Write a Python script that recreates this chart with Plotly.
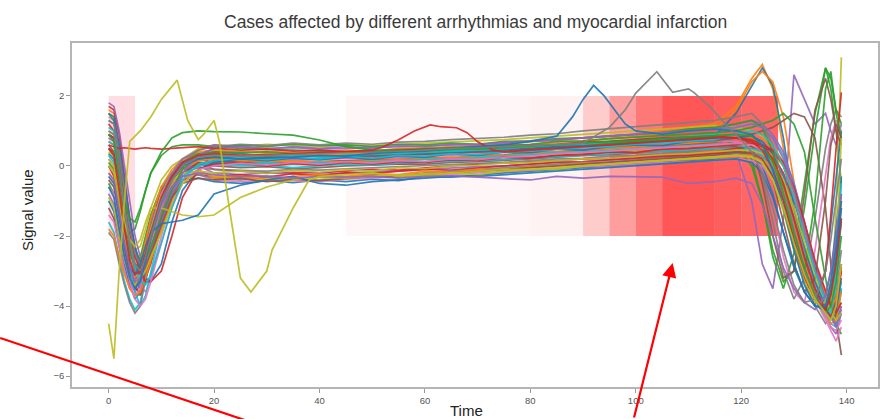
import plotly.graph_objects as go

# Sample times shared by most heartbeat traces
T = [0, 1, 2, 3, 4, 5, 6, 7, 8, 10, 12, 14, 17,
     20, 25, 30, 35, 40, 45, 50, 55, 60, 65, 70, 75, 80, 85, 90, 95, 100, 105, 110, 115,
     119, 122, 124, 126, 128, 130, 132, 134, 136, 137, 138, 139]

# Heartbeat traces on the shared time grid
s01 = [0.35, 0.2, -0.9, -2.1, -2.9, -3.3, -3.0, -2.4, -1.7, -0.8, -0.3, 0.05, 0.2,
       0.22, 0.18, 0.2, 0.15, 0.22, 0.25, 0.2, 0.3, 0.32, 0.35, 0.42, 0.4, 0.48, 0.52, 0.55, 0.6, 0.68, 0.7, 0.78, 0.8,
       0.8, 0.7, 0.5, 0.0, -0.9, -2.0, -3.0, -3.8, -4.1, -3.6, -2.8, -1.6]
s02 = [1.6, 1.5, 0.6, -0.8, -2.0, -2.8, -3.1, -2.7, -2.0, -1.0, -0.3, 0.15, 0.4,
       0.45, 0.4, 0.42, 0.38, 0.4, 0.45, 0.42, 0.5, 0.52, 0.55, 0.6, 0.62, 0.7, 0.72, 0.8, 0.85, 0.9, 1.0, 1.1, 1.2,
       1.7, 2.5, 2.9, 2.2, 0.5, -1.6, -3.0, -3.9, -4.0, -3.4, -2.4, -1.0]
s03 = [-0.5, -0.8, -1.6, -2.4, -2.9, -3.0, -2.6, -2.0, -1.4, -0.6, -0.2, 0.1, 0.25,
       0.3, 0.28, 0.25, 0.3, 0.28, 0.32, 0.3, 0.35, 0.38, 0.4, 0.45, 0.5, 0.55, 0.58, 0.62, 0.65, 0.7, 0.75, 0.8, 0.85,
       0.6, 0.0, -1.0, -2.6, -3.5, -2.5, -0.5, 1.5, 2.8, 2.2, 1.0, -0.5]
s04 = [1.2, 1.0, 0.2, -1.0, -2.2, -3.0, -3.4, -3.2, -2.8, -1.6, -0.7, -0.1, 0.2,
       0.1, 0.05, 0.0, 0.05, 0.02, 0.08, 0.1, 0.05, 0.12, 0.15, 0.2, 0.18, 0.25, 0.3, 0.35, 0.38, 0.45, 0.5, 0.52, 0.55,
       0.6, 0.6, 0.5, 0.3, -0.2, -1.0, -2.0, -3.0, -3.8, -4.2, -4.3, -3.5]
s05 = [0.8, 0.7, -0.2, -1.5, -2.6, -3.2, -3.0, -2.3, -1.6, -0.7, -0.2, 0.1, 0.3,
       0.35, 0.3, 0.32, 0.25, 0.3, 0.28, 0.3, 0.35, 0.32, 0.4, 0.42, 0.48, 0.5, 0.55, 0.6, 0.62, 0.7, 0.72, 0.75, 0.78,
       0.4, -1.0, -2.8, -3.5, -1.5, 2.6, 1.9, 1.2, 1.5, 1.0, 0.6, 1.2]
s06 = [-1.2, -1.5, -2.3, -3.0, -3.4, -3.3, -2.8, -2.1, -1.5, -0.7, -0.3, -0.05, 0.05,
       0.0, -0.05, -0.02, -0.08, -0.05, 0.0, 0.02, 0.05, 0.05, 0.1, 0.12, 0.15, 0.2, 0.25, 0.3, 0.32, 0.38, 0.42, 0.45, 0.5,
       0.55, 0.55, 0.45, 0.1, -0.6, -1.6, -2.7, -3.6, -4.2, -4.3, -3.8, -2.9]
s07 = [1.4, 1.3, 0.4, -0.9, -2.1, -2.9, -3.4, -3.6, -3.2, -2.0, -1.0, -0.3, 0.15,
       0.25, 0.2, 0.15, 0.2, 0.18, 0.22, 0.2, 0.25, 0.3, 0.28, 0.35, 0.4, 0.42, 0.48, 0.5, 0.58, 0.62, 0.65, 0.72, 0.75,
       0.8, 0.8, 0.75, 0.5, 0.0, -0.8, -1.8, -2.8, -3.7, -4.2, -4.6, -4.0]
s08 = [0.0, -0.2, -1.2, -2.3, -3.1, -3.5, -3.2, -2.5, -1.8, -0.9, -0.4, -0.1, 0.1,
       0.1, 0.12, 0.08, 0.1, 0.05, 0.1, 0.12, 0.15, 0.2, 0.18, 0.22, 0.28, 0.3, 0.35, 0.4, 0.42, 0.48, 0.52, 0.58, 0.6,
       0.6, 0.4, -0.3, -1.6, -3.0, -3.8, -3.2, -1.5, 0.5, 1.2, 1.6, 1.4]
s09 = [1.0, 0.9, 0.1, -1.1, -2.0, -2.6, -2.8, -2.4, -1.8, -0.8, -0.2, 0.2, 0.5,
       0.6, 0.55, 0.62, 0.58, 0.55, 0.6, 0.58, 0.62, 0.65, 0.7, 0.72, 0.75, 0.8, 0.85, 0.9, 0.95, 1.0, 1.05, 1.1, 1.15,
       1.1, 1.0, 0.85, 0.6, 0.1, -0.7, -1.7, -2.8, -3.8, -4.1, -1.2, 3.1]
s10 = [-1.6, -1.9, -2.6, -3.3, -3.8, -4.1, -3.9, -3.2, -2.4, -1.2, -0.5, -0.1, 0.1,
       0.05, 0.0, 0.02, -0.05, 0.0, 0.05, 0.02, 0.08, 0.1, 0.12, 0.15, 0.18, 0.22, 0.25, 0.3, 0.35, 0.38, 0.42, 0.45, 0.5,
       0.5, 0.5, 0.4, 0.1, -0.5, -1.4, -2.5, -3.4, -4.1, -4.4, -4.2, -3.3]
s11 = [0.9, 0.8, -0.3, -1.6, -2.7, -3.3, -3.5, -2.9, -2.1, -1.0, -0.4, 0.0, 0.3,
       0.4, 0.35, 0.3, 0.32, 0.3, 0.28, 0.25, 0.3, 0.35, 0.38, 0.4, 0.45, 0.5, 0.55, 0.58, 0.65, 0.7, 0.75, 0.8, 0.85,
       1.5, 2.3, 2.8, 2.3, 0.8, -1.2, -2.9, -3.8, -3.7, -3.0, -1.8, -0.3]
s12 = [-0.2, -0.4, -1.3, -2.3, -3.0, -3.2, -2.8, -2.1, -1.5, -0.6, -0.1, 0.2, 0.35,
       0.35, 0.3, 0.35, 0.3, 0.32, 0.35, 0.38, 0.4, 0.42, 0.48, 0.5, 0.55, 0.6, 0.68, 0.7, 0.78, 0.85, 0.9, 1.0, 1.05,
       1.6, 2.4, 2.7, 2.4, 1.4, -0.4, -2.3, -3.5, -4.1, -3.8, -2.8, -1.2]
s13 = [0.5, 0.3, -0.6, -1.5, -1.9, -1.8, -1.3, -0.7, -0.2, 0.3, 0.55, 0.6, 0.6,
       0.55, 0.5, 0.48, 0.45, 0.42, 0.4, 0.38, 0.4, 0.42, 0.45, 0.5, 0.52, 0.55, 0.6, 0.62, 0.65, 0.7, 0.72, 0.75, 0.78,
       0.7, 0.2, -1.0, -2.4, -3.3, -3.0, -1.2, 1.0, 2.8, 2.5, 1.6, 1.2]
s14 = [1.7, 1.6, 0.9, -0.3, -1.5, -2.3, -2.8, -3.0, -2.7, -1.8, -0.9, -0.2, 0.1,
       -0.1, -0.15, -0.2, -0.18, -0.2, -0.15, -0.1, -0.12, -0.05, 0.0, 0.05, 0.08, 0.1, 0.15, 0.2, 0.22, 0.28, 0.3, 0.35, 0.4,
       0.5, 0.55, 0.55, 0.4, 0.0, -0.8, -1.8, -2.8, -3.6, -4.0, -4.1, -2.8]
s15 = [-0.8, -1.1, -1.9, -2.7, -3.3, -3.6, -3.4, -2.8, -2.1, -1.0, -0.4, -0.1, 0.0,
       -0.2, -0.25, -0.2, -0.22, -0.25, -0.2, -0.18, -0.15, -0.1, -0.05, -0.02, 0.0, 0.05, 0.1, 0.12, 0.18, 0.2, 0.25, 0.3, 0.32,
       0.3, 0.3, 0.2, -0.1, -0.7, -1.6, -2.6, -3.5, -4.2, -4.6, -4.8, -4.2]
s16 = [0.6, 0.4, -0.5, -1.7, -2.7, -3.4, -3.7, -3.3, -2.6, -1.4, -0.6, -0.2, 0.05,
       0.15, 0.1, 0.15, 0.1, 0.12, 0.15, 0.18, 0.2, 0.25, 0.22, 0.3, 0.32, 0.38, 0.4, 0.45, 0.5, 0.55, 0.6, 0.62, 0.68,
       0.8, 0.9, 1.0, 1.1, 1.3, 1.5, 1.4, 0.8, -1.2, -2.8, -4.4, -5.4]
s17 = [0.2, 0.0, -0.9, -2.0, -2.8, -3.3, -3.1, -2.6, -1.9, -0.8, -0.3, 0.0, 0.2,
       0.2, 0.18, 0.2, 0.15, 0.18, 0.2, 0.25, 0.22, 0.28, 0.3, 0.35, 0.38, 0.42, 0.48, 0.5, 0.55, 0.6, 0.65, 0.7, 0.72,
       0.7, 0.5, 0.0, -1.2, -2.6, -3.6, -3.9, -2.4, -0.2, 0.8, 1.3, 1.0]
s18 = [-1.9, -2.1, -2.8, -3.4, -3.9, -4.2, -4.0, -3.3, -2.5, -1.3, -0.6, -0.2, -0.05,
       -0.1, -0.12, -0.15, -0.1, -0.12, -0.08, -0.05, -0.02, 0.0, 0.05, 0.08, 0.1, 0.15, 0.2, 0.22, 0.28, 0.3, 0.35, 0.4, 0.42,
       0.4, 0.35, 0.2, -0.3, -1.2, -2.3, -3.3, -4.0, -4.5, -4.3, -3.6, -2.4]
s19 = [0.4, 0.3, -0.5, -1.3, -2.0, -2.4, -2.3, -1.8, -1.2, -0.4, 0.0, 0.2, 0.25,
       0.2, 0.15, 0.18, 0.1, 0.12, 0.08, 0.1, 0.15, 0.12, 0.2, 0.22, 0.25, 0.3, 0.35, 0.38, 0.42, 0.45, 0.5, 0.52, 0.55,
       0.6, 0.6, 0.5, 0.3, 0.0, -0.8, -1.8, -2.8, -3.6, -4.0, -4.2, -3.9]
s20 = [1.1, 1.0, 0.2, -1.0, -2.1, -2.8, -3.0, -2.6, -1.9, -0.9, -0.3, 0.1, 0.3,
       0.3, 0.25, 0.28, 0.3, 0.25, 0.3, 0.32, 0.35, 0.4, 0.42, 0.45, 0.5, 0.55, 0.6, 0.62, 0.68, 0.75, 0.78, 0.85, 0.9,
       1.1, 1.2, 1.1, 0.8, 0.3, -0.5, -1.6, -2.8, -3.8, -4.1, -3.4, -1.5]
s21 = [-1.0, -1.3, -2.0, -2.8, -3.4, -3.8, -3.6, -3.0, -2.2, -1.1, -0.6, -0.4, -0.35,
       -0.45, -0.5, -0.42, -0.48, -0.4, -0.45, -0.38, -0.42, -0.3, -0.32, -0.25, -0.2, -0.15, -0.1, -0.05, 0.0, 0.05, 0.1, 0.15, 0.2,
       0.35, 0.3, 0.0, -0.8, -1.9, -2.9, -3.6, -4.0, -3.0, -1.6, -0.2, 1.0]
s22 = [0.7, 0.6, -0.3, -1.4, -2.4, -3.0, -3.3, -2.9, -2.3, -1.2, -0.5, -0.1, 0.15,
       0.2, 0.15, 0.12, 0.15, 0.1, 0.12, 0.15, 0.18, 0.2, 0.25, 0.28, 0.3, 0.35, 0.4, 0.45, 0.48, 0.55, 0.6, 0.65, 0.7,
       0.8, 0.8, 0.75, 0.55, 0.1, -0.8, -1.9, -2.9, -3.7, -4.0, -3.8, -3.0]
s23 = [1.5, 1.3, 0.3, -0.8, -1.8, -2.4, -2.7, -2.5, -2.0, -1.0, -0.3, 0.1, 0.35,
       0.4, 0.38, 0.4, 0.35, 0.38, 0.4, 0.42, 0.45, 0.5, 0.52, 0.55, 0.6, 0.62, 0.7, 0.72, 0.78, 0.82, 0.85, 0.9, 0.95,
       1.0, 1.1, 1.2, 1.3, 1.5, 1.2, 0.4, -1.5, -3.2, -4.0, -4.5, -4.8]
s24 = [0.0, -0.3, -1.2, -2.2, -3.0, -3.5, -3.6, -3.2, -2.6, -1.5, -0.8, -0.4, -0.25,
       -0.3, -0.25, -0.32, -0.22, -0.28, -0.2, -0.22, -0.15, -0.1, -0.12, -0.05, 0.0, 0.05, 0.1, 0.12, 0.18, 0.22, 0.28, 0.3, 0.35,
       0.4, 0.35, 0.2, -0.3, -1.2, -2.3, -3.2, -3.8, -3.0, -1.4, 0.5, 2.1]
s25 = [1.3, 1.2, 0.5, -0.6, -1.7, -2.5, -2.9, -2.6, -2.0, -0.9, -0.2, 0.2, 0.45,
       0.6, 0.55, 0.5, 0.52, 0.48, 0.5, 0.52, 0.55, 0.58, 0.6, 0.62, 0.65, 0.7, 0.75, 0.8, 0.85, 0.9, 0.95, 1.0, 1.05,
       1.2, 1.3, 1.2, 0.9, 0.4, -0.5, -1.6, -2.8, -3.8, -4.2, -4.5, -4.0]
s26 = [-0.4, -0.6, -1.5, -2.4, -3.1, -3.4, -3.2, -2.6, -2.0, -0.9, -0.3, 0.0, 0.2,
       0.25, 0.2, 0.25, 0.22, 0.2, 0.25, 0.28, 0.3, 0.32, 0.35, 0.4, 0.42, 0.48, 0.5, 0.55, 0.6, 0.65, 0.7, 0.75, 0.8,
       0.9, 0.6, -0.5, -2.0, -3.2, -3.0, -0.8, 1.6, 2.5, 1.9, 1.0, 0.6]
s27 = [-1.4, -1.6, -2.3, -3.0, -3.5, -3.7, -3.5, -2.9, -2.3, -1.2, -0.6, -0.3, -0.25,
       -0.4, -0.45, -0.4, -0.42, -0.45, -0.38, -0.35, -0.32, -0.28, -0.25, -0.2, -0.15, -0.12, -0.08, -0.02, 0.0, 0.05, 0.1, 0.12, 0.15,
       0.2, 0.15, 0.0, -0.4, -1.2, -2.2, -3.1, -3.8, -4.4, -4.7, -5.0, -4.6]
s28 = [0.9, 0.8, 0.0, -1.2, -2.3, -3.0, -3.3, -3.0, -2.4, -1.3, -0.6, -0.3, -0.25,
       -0.35, -0.4, -0.32, -0.38, -0.3, -0.35, -0.25, -0.28, -0.2, -0.15, -0.12, -0.05, 0.0, 0.05, 0.1, 0.12, 0.18, 0.22, 0.25, 0.3,
       0.35, 0.35, 0.3, 0.0, -0.5, -1.4, -2.4, -3.3, -4.0, -4.3, -4.5, -4.2]
s29 = [-0.9, -1.2, -2.0, -2.7, -3.2, -3.4, -3.1, -2.5, -1.9, -0.9, -0.4, -0.2, -0.15,
       -0.3, -0.35, -0.38, -0.35, -0.38, -0.32, -0.3, -0.28, -0.22, -0.2, -0.15, -0.12, -0.05, 0.0, 0.05, 0.08, 0.12, 0.15, 0.2, 0.22,
       0.3, 0.3, 0.2, 0.0, -0.5, -1.3, -2.3, -3.2, -3.9, -4.1, -2.6, 0.8]
s30 = [0.3, 0.1, -0.8, -1.9, -2.9, -3.6, -4.0, -3.7, -3.0, -1.7, -0.8, -0.3, 0.0,
       0.1, 0.05, 0.08, 0.05, 0.1, 0.08, 0.12, 0.15, 0.18, 0.2, 0.25, 0.28, 0.32, 0.38, 0.4, 0.45, 0.5, 0.55, 0.58, 0.62,
       0.6, 0.5, 0.3, -0.2, -1.0, -2.0, -3.0, -3.8, -4.3, -4.5, -4.6, -3.5]
s31 = [1.5, 1.4, 0.6, -0.5, -1.5, -2.3, -2.9, -3.2, -3.3, -2.8, -1.6, -0.7, -0.1,
       0.1, 0.2, 0.15, 0.22, 0.18, 0.25, 0.2, 0.28, 0.25, 0.35, 0.3, 0.4, 0.38, 0.48, 0.45, 0.55, 0.6, 0.58, 0.7, 0.72,
       0.8, 0.85, 0.7, 0.35, -0.3, -1.2, -2.3, -3.3, -4.0, -4.3, -4.1, -3.2]
s32 = [-1.8, -2.0, -2.6, -3.1, -3.5, -3.7, -3.6, -3.2, -2.7, -1.8, -1.0, -0.4, -0.1,
       -0.35, -0.3, -0.38, -0.3, -0.25, -0.3, -0.22, -0.25, -0.15, -0.18, -0.1, -0.12, -0.02, 0.0, 0.08, 0.05, 0.15, 0.2, 0.18, 0.25,
       0.3, 0.3, 0.2, -0.1, -0.7, -1.7, -2.8, -3.7, -4.3, -4.5, -4.4, -3.6]
s33 = [0.1, -0.1, -1.0, -1.9, -2.5, -2.8, -2.9, -2.7, -2.3, -1.5, -0.7, -0.1, 0.3,
       0.5, 0.6, 0.55, 0.62, 0.58, 0.6, 0.55, 0.62, 0.6, 0.65, 0.62, 0.7, 0.72, 0.78, 0.8, 0.85, 0.92, 0.95, 1.05, 1.1,
       1.2, 1.3, 1.1, 0.4, -0.8, -2.2, -3.0, -1.0, 2.2, 2.7, 1.5, 0.8]
s34 = [0.9, 0.8, 0.0, -1.0, -1.9, -2.6, -3.0, -3.3, -3.3, -3.0, -2.0, -0.9, -0.1,
       0.05, 0.1, 0.0, 0.08, 0.02, 0.1, 0.05, 0.12, 0.1, 0.18, 0.15, 0.25, 0.22, 0.3, 0.32, 0.4, 0.38, 0.48, 0.5, 0.55,
       0.6, 0.65, 0.6, 0.45, 0.1, -0.6, -1.6, -2.7, -3.6, -4.0, -4.2, -3.9]
s35 = [1.8, 1.7, 1.0, 0.0, -1.1, -2.0, -2.6, -2.8, -2.5, -1.6, -0.8, -0.2, 0.3,
       0.5, 0.55, 0.48, 0.55, 0.5, 0.55, 0.5, 0.58, 0.55, 0.62, 0.6, 0.68, 0.7, 0.75, 0.8, 0.85, 0.9, 0.95, 1.0, 1.05,
       1.1, 1.2, 1.1, 0.8, 0.2, -0.7, -1.8, -2.9, -3.9, -4.3, -4.6, -4.1]
s36 = [0.5, 0.4, -0.4, -1.4, -2.3, -2.9, -3.1, -2.9, -2.5, -1.7, -0.9, -0.5, -0.35,
       -0.4, -0.35, -0.45, -0.38, -0.42, -0.35, -0.3, -0.32, -0.25, -0.2, -0.15, -0.1, -0.05, 0.0, 0.05, 0.1, 0.15, 0.2, 0.25, 0.3,
       0.4, 0.35, 0.2, -0.4, -1.6, -2.8, -3.6, -3.2, -1.0, 0.6, 1.2, 0.8]
s37 = [-0.6, -0.8, -1.7, -2.6, -3.3, -3.8, -4.0, -3.8, -3.3, -2.2, -1.2, -0.5, -0.1,
       0.0, 0.08, 0.02, 0.1, 0.05, 0.12, 0.08, 0.15, 0.12, 0.2, 0.18, 0.25, 0.28, 0.35, 0.38, 0.42, 0.48, 0.52, 0.55, 0.6,
       0.65, 0.6, 0.45, 0.0, -0.8, -1.9, -2.9, -3.7, -4.3, -4.6, -4.7, -4.4]
s38 = [1.3, 1.2, 0.4, -0.7, -1.8, -2.5, -2.8, -2.6, -2.1, -1.1, -0.4, 0.1, 0.45,
       0.55, 0.62, 0.58, 0.65, 0.6, 0.65, 0.62, 0.68, 0.7, 0.75, 0.78, 0.82, 0.88, 0.92, 1.0, 1.05, 1.12, 1.18, 1.25, 1.3,
       1.4, 1.5, 1.2, 0.6, -0.5, -1.8, -3.0, -3.8, -4.1, -3.4, -2.2, -0.8]
s39 = [0.0, -0.2, -1.1, -2.0, -2.7, -3.1, -3.2, -3.0, -2.6, -1.9, -1.1, -0.5, -0.15,
       -0.2, -0.15, -0.22, -0.12, -0.18, -0.1, -0.15, -0.05, -0.08, 0.0, 0.02, 0.08, 0.1, 0.15, 0.2, 0.22, 0.28, 0.32, 0.35, 0.4,
       0.45, 0.45, 0.35, 0.1, -0.4, -1.2, -2.2, -3.1, -3.9, -4.2, -4.4, -4.2]
s40 = [0.7, 0.6, -0.2, -1.2, -2.2, -2.9, -3.3, -3.4, -3.1, -2.2, -1.2, -0.4, 0.05,
       0.15, 0.22, 0.18, 0.25, 0.2, 0.28, 0.22, 0.3, 0.28, 0.35, 0.32, 0.4, 0.42, 0.48, 0.52, 0.55, 0.62, 0.65, 0.7, 0.75,
       0.9, 1.0, 0.9, 0.6, 0.0, -0.9, -2.0, -3.0, -3.9, -4.3, -3.0, -0.5]

# Irregular beats on the shared grid
late_olive = [0.2, 0.0, -0.8, -1.6, -2.1, -2.3, -2.1, -1.6, -1.2, -1.2, -1.3, -1.4, -1.45,
              -1.4, -0.9, -0.6, -0.4, -0.3, -0.35, -0.3, -0.25, -0.3, -0.2, -0.25, -0.15, -0.1, -0.1, 0.0, 0.05, 0.1, 0.15, 0.2, 0.25,
              0.3, 0.25, 0.1, -0.4, -1.3, -2.4, -3.3, -3.9, -3.9, -3.3, -2.4, -1.0]
late_blue = [-0.3, -0.5, -1.4, -2.3, -2.9, -3.1, -2.8, -2.3, -1.9, -1.65, -1.6, -1.55, -1.4,
             -0.8, -0.55, -0.4, -0.3, -0.5, -0.55, -0.45, -0.4, -0.35, -0.3, -0.3, -0.25, -0.2, -0.15, -0.1, -0.05, 0.0, 0.05, 0.1, 0.15,
             0.2, 0.1, -0.2, -0.9, -1.9, -2.8, -3.6, -4.0, -4.1, -3.6, -2.6, -1.2]
flat_red = [0.6, 0.55, 0.5, 0.52, 0.5, 0.48, 0.5, 0.52, 0.5, 0.48, 0.5, 0.52, 0.55,
            0.5, 0.45, 0.48, 0.42, 0.45, 0.4, 0.42, 0.45, 0.48, 0.5, 0.52, 0.55, 0.6, 0.62, 0.68, 0.7, 0.75, 0.8, 0.82, 0.85,
            0.8, 0.75, 0.6, 0.2, -0.5, -1.5, -2.6, -3.5, -4.1, -4.3, -4.0, -3.0]
high_green = [0.9, 0.7, -0.2, -1.0, -1.5, -1.6, -1.2, -0.7, -0.2, 0.4, 0.8, 0.95, 1.0,
              0.98, 0.97, 0.92, 0.88, 0.74, 0.55, 0.45, 0.42, 0.45, 0.5, 0.48, 0.52, 0.55, 0.6, 0.65, 0.7, 0.72, 0.78, 0.82, 0.85,
              0.9, 0.85, 0.6, 0.1, -0.8, -1.9, -2.9, -3.7, -4.2, -4.0, -3.3, -2.0]
low_purple = [-0.2, -0.4, -1.3, -2.2, -2.9, -3.3, -3.2, -2.6, -2.0, -1.1, -0.6, -0.3, -0.2,
              -0.25, -0.3, -0.28, -0.35, -0.3, -0.32, -0.3, -0.35, -0.3, -0.28, -0.32, -0.35, -0.4, -0.3, -0.35, -0.3, -0.3, -0.32, -0.5, -0.45,
              -0.35, -0.5, -1.1, -2.0, -2.9, -3.5, -3.9, -4.1, -3.7, -3.0, -2.0, -0.8]

# Irregular beats with their own sample times
wild_t = [0, 1, 2, 3, 4, 6, 8, 10, 13, 15, 17, 18, 20, 21, 23, 25, 27, 30, 31, 33,
          35, 38, 40, 45, 50, 55, 60, 65, 70, 75, 80, 85, 90, 95, 100, 105, 110, 115, 119, 122,
          124, 126, 128, 130, 132, 134, 136, 137, 138, 139]
wild_v = [-4.5, -5.5, -3.0, -1.0, 0.7, 1.0, 1.4, 1.9, 2.45, 1.3, 0.75, 0.9, 1.3, 0.7, -1.3, -3.2, -3.6, -3.0, -2.4, -1.8,
          -1.2, -0.4, -0.3, -0.25, -0.2, -0.3, -0.25, -0.2, -0.15, -0.1, -0.1, -0.05, 0.0, 0.05, 0.1, 0.15, 0.2, 0.25, 0.3, 0.25,
          0.1, -0.4, -1.2, -2.2, -3.1, -3.8, -4.2, -4.4, -4.0, -2.8]
bump_t = [0, 1, 2, 3, 4, 5, 6, 7, 8, 10, 12, 14, 17, 20, 25, 30, 35, 40, 45, 50,
          52, 55, 58, 61, 63, 66, 68, 70, 73, 75, 80, 85, 90, 95, 100, 105, 110, 115,
          119, 122, 124, 126, 128, 130, 132, 134, 136, 137, 138, 139]
bump_v = [0.5, 0.3, -0.7, -1.8, -2.7, -3.1, -3.0, -2.5, -1.9, -0.9, -0.3, 0.1, 0.3, 0.35, 0.3, 0.32, 0.35, 0.38, 0.4, 0.45,
          0.54, 0.75, 1.0, 1.17, 1.12, 1.09, 0.95, 0.69, 0.45, 0.4, 0.45, 0.5, 0.55, 0.6, 0.65, 0.7, 0.75, 0.8,
          0.8, 0.7, 0.45, -0.1, -1.0, -2.1, -3.1, -3.8, -4.1, -3.7, -2.8, -1.5]
spike_t = [0, 1, 2, 3, 4, 5, 6, 7, 8, 10, 12, 14, 17, 20, 25, 30, 35, 40, 45, 50, 55, 60, 65, 70, 75, 80, 85,
           88, 90, 92, 94, 96, 98, 100, 105, 110, 115,
           119, 122, 124, 126, 128, 130, 132, 134, 136, 137, 138, 139]
spike_v = [-0.6, -0.9, -1.8, -2.6, -3.2, -3.5, -3.3, -2.7, -2.0, -1.0, -0.4, 0.0, 0.2,
           0.25, 0.2, 0.22, 0.25, 0.3, 0.28, 0.35, 0.4, 0.42, 0.5, 0.55, 0.6, 0.7, 0.85,
           1.4, 1.9, 2.3, 2.0, 1.6, 1.2, 1.0, 0.9, 1.0, 1.05,
           1.0, 0.9, 0.6, -0.1, -1.2, -2.4, -3.4, -4.0, -4.0, -3.3, -2.3, -1.0]
hump_t = [0, 1, 2, 3, 4, 5, 6, 7, 8, 10, 12, 14, 17,
          20, 25, 30, 35, 40, 45, 50, 55, 60, 65, 70, 75, 80, 85, 90,
          95, 98, 100, 102, 104, 107, 110, 111, 114, 117,
          120, 122, 124, 126, 128, 130, 132, 134, 136, 137, 138, 139]
hump_v = [1.0, 0.9, 0.0, -1.2, -2.2, -2.8, -3.0, -2.6, -2.0, -1.0, -0.4, 0.0, 0.25,
          0.3, 0.28, 0.3, 0.32, 0.35, 0.38, 0.4, 0.42, 0.45, 0.5, 0.52, 0.55, 0.6, 0.62, 0.65,
          1.1, 1.6, 2.08, 2.4, 2.69, 2.1, 2.2, 2.1, 1.7, 1.2,
          0.74, 0.4, -0.2, -1.2, -2.4, -3.4, -3.9, -3.8, -3.0, -2.1, -1.0, 0.2]

# Highlighted time spans and their strength
span_start = [0, 45, 80, 90, 95, 100, 105, 115, 120]
span_end = [5, 80, 90, 95, 100, 105, 115, 120, 127]
span_weight = [0.17, 0.03, 0.05, 0.2, 0.38, 0.53, 0.66, 0.63, 0.6]

X_TICKS = [0, 20, 40, 60, 80, 100, 120, 140]
Y_TICKS = [-6, -4, -2, 0, 2]

TAB10 = ["#1f77b4", "#ff7f0e", "#2ca02c", "#d62728", "#9467bd",
         "#8c564b", "#e377c2", "#7f7f7f", "#bcbd22", "#17becf"]

regular = [s01, s02, s03, s04, s05, s06, s07, s08, s09, s10,
           s11, s12, s13, s14, s15, s16, s17, s18, s19, s20,
           s21, s22, s23, s24, s25, s26, s27, s28, s29, s30,
           s31, s32, s33, s34, s35, s36, s37, s38, s39, s40]

traces = [(T, v, TAB10[i % 10]) for i, v in enumerate(regular)]
traces += [
    (T, late_olive, "#bcbd22"),
    (T, late_blue, "#1f77b4"),
    (T, flat_red, "#d62728"),
    (T, high_green, "#2ca02c"),
    (T, low_purple, "#9467bd"),
    (bump_t, bump_v, "#d62728"),
    (spike_t, spike_v, "#1f77b4"),
    (hump_t, hump_v, "#7f7f7f"),
    (wild_t, wild_v, "#bcbd22"),
]

for xs, ys, _ in traces:
    assert len(xs) == len(ys), (len(xs), len(ys))

fig = go.Figure()
for xs, ys, col in traces:
    fig.add_trace(go.Scatter(x=xs, y=ys, mode="lines",
                             line=dict(color=col, width=1.7),
                             opacity=0.9, showlegend=False, hoverinfo="skip"))

shapes = []
for a, b, w in zip(span_start, span_end, span_weight):
    tint = "255,60,90" if a == 0 else "255,0,0"
    shapes.append(dict(type="rect", xref="x", yref="y", x0=a, x1=b, y0=-2, y1=2,
                       fillcolor=f"rgba({tint},{w})", line=dict(width=0), layer="below"))

# red pointer line running off the lower-left
shapes.append(dict(type="line", xref="paper", yref="paper",
                   x0=-0.0891, y0=0.1424, x1=0.2327, y1=-0.1105,
                   line=dict(color="#ff0000", width=2.2)))

W, H = 882, 419
L, R, TOP, B = 72, 2, 43, 32

fig.update_layout(
    width=W, height=H,
    margin=dict(l=L, r=R, t=TOP, b=B, pad=0),
    paper_bgcolor="white", plot_bgcolor="white",
    shapes=shapes,
    font=dict(family="Liberation Sans, Arial, sans-serif"),
    xaxis=dict(range=[-6.95, 145.95], tickvals=X_TICKS, showgrid=False, zeroline=False,
               showline=True, mirror=True, linecolor="#b5b5b5", linewidth=1.5,
               ticks="outside", ticklen=4, tickcolor="#999999",
               tickfont=dict(size=9.5, color="#555555")),
    yaxis=dict(range=[-6.31, 3.51], tickvals=Y_TICKS, showgrid=False, zeroline=False,
               showline=True, mirror=True, linecolor="#b5b5b5", linewidth=1.5,
               ticks="outside", ticklen=4, tickcolor="#999999",
               tickfont=dict(size=9.5, color="#555555")),
    annotations=[
        dict(text="Cases affected by different arrhythmias and myocardial infarction",
             xref="paper", yref="paper", x=0.5, y=1.061, showarrow=False,
             xanchor="center", yanchor="middle",
             font=dict(size=17.5, color="#3a3a3a")),
        dict(text="Signal value", xref="paper", yref="paper", x=-0.0557, y=0.5145,
             showarrow=False, textangle=-90, xanchor="center", yanchor="middle",
             font=dict(size=15, color="#222222")),
        dict(text="Time", xref="paper", yref="paper", x=0.490, y=-0.0669,
             showarrow=False, xanchor="center", yanchor="middle",
             font=dict(size=15, color="#222222")),
        dict(text="", x=107.0, y=-2.77, xref="x", yref="y", showarrow=True,
             ax=-39, ay=162, arrowcolor="#ff0000", arrowwidth=2.2,
             arrowhead=2, arrowsize=1.3),
    ],
)

fig.write_html("out.html")
